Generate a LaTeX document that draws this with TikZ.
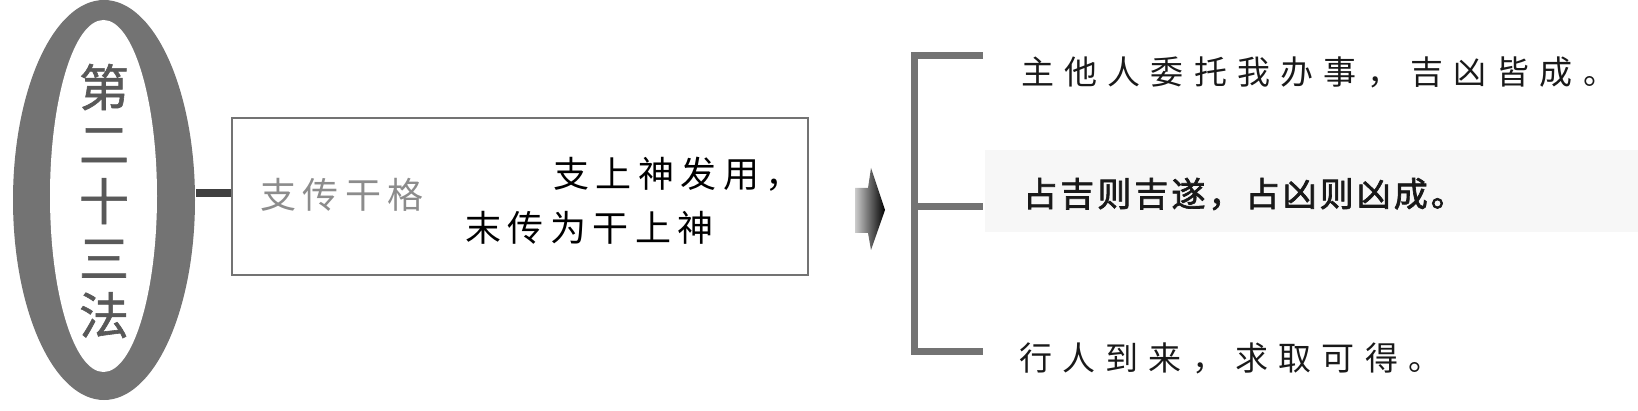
\documentclass[tikz,border=0pt]{standalone}
\usepackage{fontspec}
\newfontfamily\cjk[FakeBold=1.2]{Noto Sans CJK SC}
\newfontfamily\cjkbox[LetterSpace=18]{Noto Sans CJK SC}
\newfontfamily\cjkrow[LetterSpace=31]{Noto Sans CJK SC}
\newfontfamily\cjkrowb[LetterSpace=9,FakeBold=2]{Noto Sans CJK SC}
\usetikzlibrary{positioning}

\begin{document}
\begin{tikzpicture}[x=1pt,y=-1pt,
  ring/.style={fill=black!55},
  lead/.style={line width=8pt, black!75},
  brace/.style={line width=7pt, black!55},
  boxtxt/.style={inner sep=0pt, anchor=west, font=\cjkbox\fontsize{36pt}{40pt}\selectfont},
  rowtxt/.style={inner sep=0pt, anchor=west, text=black!90, font=\cjkrow\fontsize{33pt}{40pt}\selectfont}]

\useasboundingbox (0,0) rectangle (1638,411);

% oval title
\fill[ring] (104,200) ellipse [x radius=91, y radius=200];
\fill[white] (103.5,196) ellipse [x radius=53.5, y radius=176];
\node[align=center, inner sep=0pt, text=black!65,
  font=\cjk\fontsize{50pt}{57pt}\selectfont] (fa) at (104,201) {第\\二\\十\\三\\法};
\coordinate (ringE) at (196,193);

% rule box
\node[draw=black!55, line width=1.2pt, minimum width=576pt, minimum height=157pt] (box) at (520,196.5) {};
\draw[lead] (ringE) -- (ringE -| box.west);
\node[boxtxt, text=black!45] (ge) at (260,195) {支传干格};
\node[boxtxt] (l1) at (553,174) {支上神发用，};
\node[boxtxt] (l2) at (465,228) {末传为干上神};

% arrow
\shade[left color=black!20, right color=black]
  (855,188) -- (868,188) -- (871,168) -- (885,210) -- (871,250) -- (868,233) -- (855,233) -- cycle;

% results
\fill[black!3] (985,150) rectangle (1638,232);
\node[rowtxt] (r1) at (1021,72) {主他人委托我办事，吉凶皆成。};
\node[rowtxt, font=\cjkrowb\fontsize{34pt}{40pt}\selectfont] (r2) at (1023,194) {占吉则吉遂，占凶则凶成。};
\node[rowtxt] (r3) at (1019,358) {行人到来，求取可得。};

\coordinate (bt) at (914,56);
\coordinate (bm) at (914,207);
\coordinate (bb) at (914,352);
\coordinate (t1) at (983,56);
\coordinate (t2) at (983,207);
\coordinate (t3) at (983,352);
\draw[brace] (t1) -- (bt) -- (bb) -- (t3);
\draw[brace] (bm) -- (t2);
\end{tikzpicture}
\end{document}
